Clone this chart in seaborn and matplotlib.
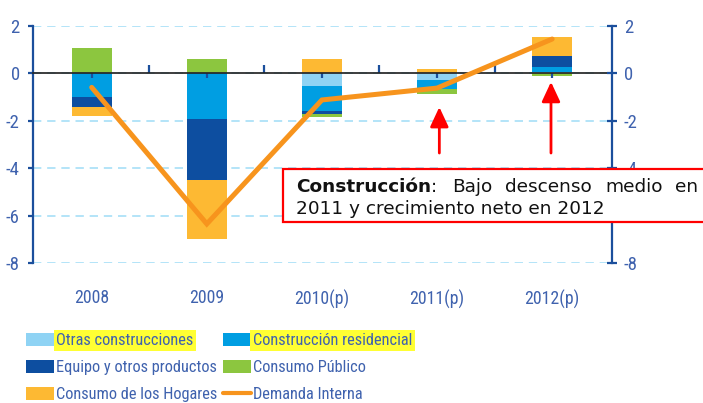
import numpy as np
import pandas as pd
import matplotlib
matplotlib.use("Agg")
import matplotlib.pyplot as plt
from matplotlib.patches import Rectangle, Patch
from matplotlib.lines import Line2D
from matplotlib import font_manager
import seaborn as sns

# Contribuciones al crecimiento de la demanda interna (p.p.)
years = ["2008", "2009", "2010(p)", "2011(p)", "2012(p)"]
otras_construcciones = [0.0, 0.0, -0.52, -0.28, 0.08]
construccion_residencial = [-1.00, -1.94, -1.05, -0.39, 0.17]
equipo_otros = [-0.40, -2.57, -0.14, 0.0, 0.50]
consumo_publico = [1.06, 0.62, -0.14, -0.21, -0.11]
consumo_hogares = [-0.38, -2.48, 0.61, 0.18, 0.80]
demanda_interna = [-0.59, -6.35, -1.12, -0.62, 1.45]
y_ticks = [-8, -6, -4, -2, 0, 2]

series = [
    ("Otras construcciones", otras_construcciones, "#8FD3F4"),
    ("Construcción residencial", construccion_residencial, "#009EE2"),
    ("Equipo y otros productos", equipo_otros, "#0D4EA0"),
    ("Consumo Público", consumo_publico, "#8CC63F"),
    ("Consumo de los Hogares", consumo_hogares, "#FDB933"),
]
line_color = "#F7941D"
axis_blue = "#1B4F9C"
label_blue = "#3F62AE"
grid_blue = "#A7DFF7"

available = {f.name for f in font_manager.fontManager.ttflist}
narrow_pref = [n for n in ["Roboto Condensed", "Liberation Sans Narrow",
                           "Noto Sans Condensed"] if n in available]
condensed = bool(narrow_pref)
narrow = (narrow_pref[:1] or ["Roboto"]) + ["DejaVu Sans"]
scale = 1.0 if condensed else 0.82

sns.set_theme(style="white")
plt.rcParams["font.family"] = narrow
plt.rcParams["axes.unicode_minus"] = False

W, H = 703, 403
fig = plt.figure(figsize=(W / 100, H / 100), dpi=100)
ax = fig.add_axes([33 / W, 1 - 263 / H, (612 - 33) / W, (263 - 26) / H])

# stacked bars: positives grow upward from 0, negatives downward
pos_base = np.zeros(len(years))
neg_base = np.zeros(len(years))
for name, vals, col in series:
    v = np.asarray(vals, dtype=float)
    bottom = np.where(v >= 0, pos_base, neg_base)
    sns.barplot(x=years, y=v, bottom=bottom, color=col, saturation=1,
                width=0.35, errorbar=None, ax=ax, linewidth=0, zorder=3)
    pos_base = pos_base + np.where(v > 0, v, 0)
    neg_base = neg_base + np.where(v < 0, v, 0)

pos = np.arange(len(years))
sns.lineplot(x=pos, y=demanda_interna, sort=False, color=line_color,
             linewidth=3.6, ax=ax, zorder=5, solid_capstyle="round",
             solid_joinstyle="miter")

ax.set_xlim(-0.51, 4.52)
ax.set_ylim(-8, 2)
ax.set_xlabel("")
ax.set_ylabel("")

# dashed horizontal grid
ax.set_yticks(y_ticks)
ax.set_yticklabels([str(t) for t in y_ticks])
ax.yaxis.grid(True, color=grid_blue, linestyle=(0, (5, 3.5)), linewidth=1.2, zorder=0)
ax.xaxis.grid(False)
for s in ["top", "bottom", "right"]:
    ax.spines[s].set_visible(False)
ax.spines["left"].set_color(axis_blue)
ax.spines["left"].set_linewidth(1.6)
ax.tick_params(axis="y", direction="out", length=3.5, width=1.6, color=axis_blue,
               labelcolor=label_blue, labelsize=13.5 * scale, pad=6, left=True)
ax.tick_params(axis="x", length=0, labelcolor=label_blue, labelsize=12.8 * scale, pad=19)
ax.set_xticks(pos)
ax.set_xticklabels(years)

# zero line with category ticks
zero = ax.secondary_xaxis(0.8)
zero.spines["bottom"].set_color(axis_blue)
zero.spines["bottom"].set_linewidth(1.6)
zero.set_xticks(pos[:-1] + 0.5)
zero.set_xticklabels([])
zero.set_xticks(pos, minor=True)
zero.tick_params(which="major", direction="out", length=6, width=1.6, color=axis_blue)
zero.tick_params(which="minor", direction="in", length=3.5, width=1.6, color=axis_blue)
zero.set_zorder(4)

# right axis
axr = ax.twinx()
axr.set_ylim(-8, 2)
axr.set_yticks(y_ticks)
axr.set_yticklabels([str(t) for t in y_ticks])
for s in ["top", "bottom", "left"]:
    axr.spines[s].set_visible(False)
axr.spines["right"].set_color(axis_blue)
axr.spines["right"].set_linewidth(1.6)
axr.tick_params(axis="y", direction="inout", length=7, width=1.6, color=axis_blue,
                labelcolor=label_blue, labelsize=13.5 * scale, pad=5)
axr.grid(False)

# arrows pointing at 2011 and 2012
arrow = dict(arrowstyle="-|>,head_length=0.6,head_width=0.28", color="#FF0000",
             lw=2, mutation_scale=20, shrinkA=0, shrinkB=0)
ax.annotate("", xy=(3.02, -1.42), xytext=(3.02, -3.36), arrowprops=arrow, zorder=6)
ax.annotate("", xy=(3.99, -0.36), xytext=(3.99, -3.36), arrowprops=arrow, zorder=6)

# comment box
fig.add_artist(Rectangle((283 / W, 1 - 222 / H), (720 - 283) / W, 53 / H,
                         transform=fig.transFigure, facecolor="white",
                         edgecolor="#FF0000", linewidth=1.6, zorder=10))
tk = dict(fontsize=13.3, color="#111111", family="DejaVu Sans", va="baseline",
          zorder=11)
y1, y2 = 1 - 192 / H, 1 - 214 / H
fig.text(296 / W, y1, "Construcción", fontweight="bold", **tk)
fig.text(431 / W, y1, ":", **tk)
for word, xpx in [("Bajo", 452), ("descenso", 505), ("medio", 605), ("en", 675)]:
    fig.text(xpx / W, y1, word, **tk)
fig.text(296 / W, y2, "2011 y crecimiento neto en 2012", **tk)

# legend (column order gives row-wise reading)
handles = {name: Patch(facecolor=col, edgecolor="none") for name, _, col in series}
handles["Demanda Interna"] = Line2D([], [], color=line_color, linewidth=3)
order = ["Otras construcciones", "Equipo y otros productos", "Consumo de los Hogares",
         "Construcción residencial", "Consumo Público", "Demanda Interna"]
lfs = 11.8 * scale
leg = fig.legend([handles[k] for k in order], order, loc="upper left",
                 bbox_to_anchor=(26 / W, 1 - 333 / H), ncol=2, frameon=False,
                 fontsize=lfs, handlelength=28 / (lfs * 100 / 72),
                 handleheight=0.85, handletextpad=0.15, columnspacing=0.3,
                 labelspacing=0.72, borderpad=0, borderaxespad=0)
for t in leg.get_texts():
    t.set_color(label_blue)
for t in leg.get_texts():
    if t.get_text() in ("Otras construcciones", "Construcción residencial"):
        t.set_bbox(dict(facecolor="#FFFF33", edgecolor="none", pad=2))

fig.savefig("out.png", dpi=100)
